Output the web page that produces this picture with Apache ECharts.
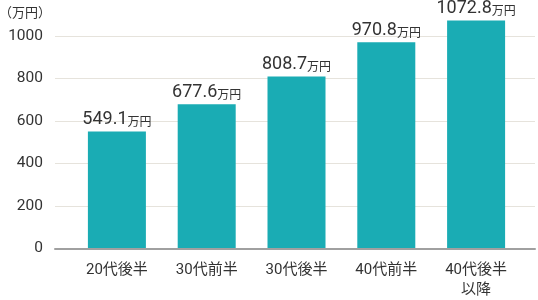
<!DOCTYPE html>
<html><head><meta charset="utf-8">
<script src="https://cdn.jsdelivr.net/npm/echarts@6/dist/echarts.min.js"></script>
<style>html,body{margin:0;padding:0;background:#fff}#c{width:538px;height:300px}</style>
</head><body><div id="c"></div>
<script>
const categories = ['20代後半', '30代前半', '30代後半', '40代前半', '40代後半\n以降'];
const values = [549.1, 677.6, 808.7, 970.8, 1072.8];
const unitLabel = '（万円）';
const unit = '万円';
const yMin = 0, yMax = 1000, yStep = 200;

const FONT = 'Roboto, "Noto Sans CJK JP", sans-serif';
const chart = echarts.init(document.getElementById('c'), null, {renderer: 'canvas'});
chart.setOption({
  animation: false,
  backgroundColor: '#fff',
  grid: [
    {left: 72, right: 17, top: 36, bottom: 51.5},
    {left: 55, right: 3, top: 36, bottom: 51.5}
  ],
  graphic: [{type: 'text', left: -1, top: 6, style: {text: unitLabel, font: '13px "Noto Sans CJK JP", sans-serif', fill: '#333'}}],
  xAxis: [
    {type: 'category', gridIndex: 0, data: categories,
     axisLine: {show: false}, axisTick: {show: false},
     axisLabel: {margin: 12, fontSize: 15, lineHeight: 20, color: '#333', fontFamily: FONT}},
    {type: 'category', gridIndex: 1, data: ['a'], axisTick: {show: false}, axisLabel: {show: false},
     axisLine: {show: true, lineStyle: {color: '#a0a0a0', width: 2}}}
  ],
  yAxis: [
    {type: 'value', gridIndex: 0, min: yMin, max: yMax, interval: yStep, show: false, splitLine: {show: false}},
    {type: 'value', gridIndex: 1, min: yMin, max: yMax, interval: yStep,
     axisLine: {show: false}, axisTick: {show: false},
     axisLabel: {margin: 12, fontSize: 15.5, color: '#333', fontFamily: FONT, formatter: v => String(v)},
     splitLine: {lineStyle: {color: '#e6e3dc', width: 1}}}
  ],
  series: [{
    type: 'bar', xAxisIndex: 0, yAxisIndex: 0, data: values, barWidth: 58, clip: false,
    itemStyle: {color: '#1aacb4'},
    label: {show: true, position: 'top', distance: 3,
      formatter: p => '{n|' + p.value + '}{u|' + unit + '}',
      rich: {
        n: {fontSize: 18, fontFamily: FONT, color: '#333', lineHeight: 19, verticalAlign: 'bottom'},
        u: {fontSize: 12, fontFamily: '"Noto Sans CJK JP", sans-serif', color: '#333', lineHeight: 19, verticalAlign: 'bottom', padding: [0,0,1,0]}
      }}
  }]
});
</script></body></html>
